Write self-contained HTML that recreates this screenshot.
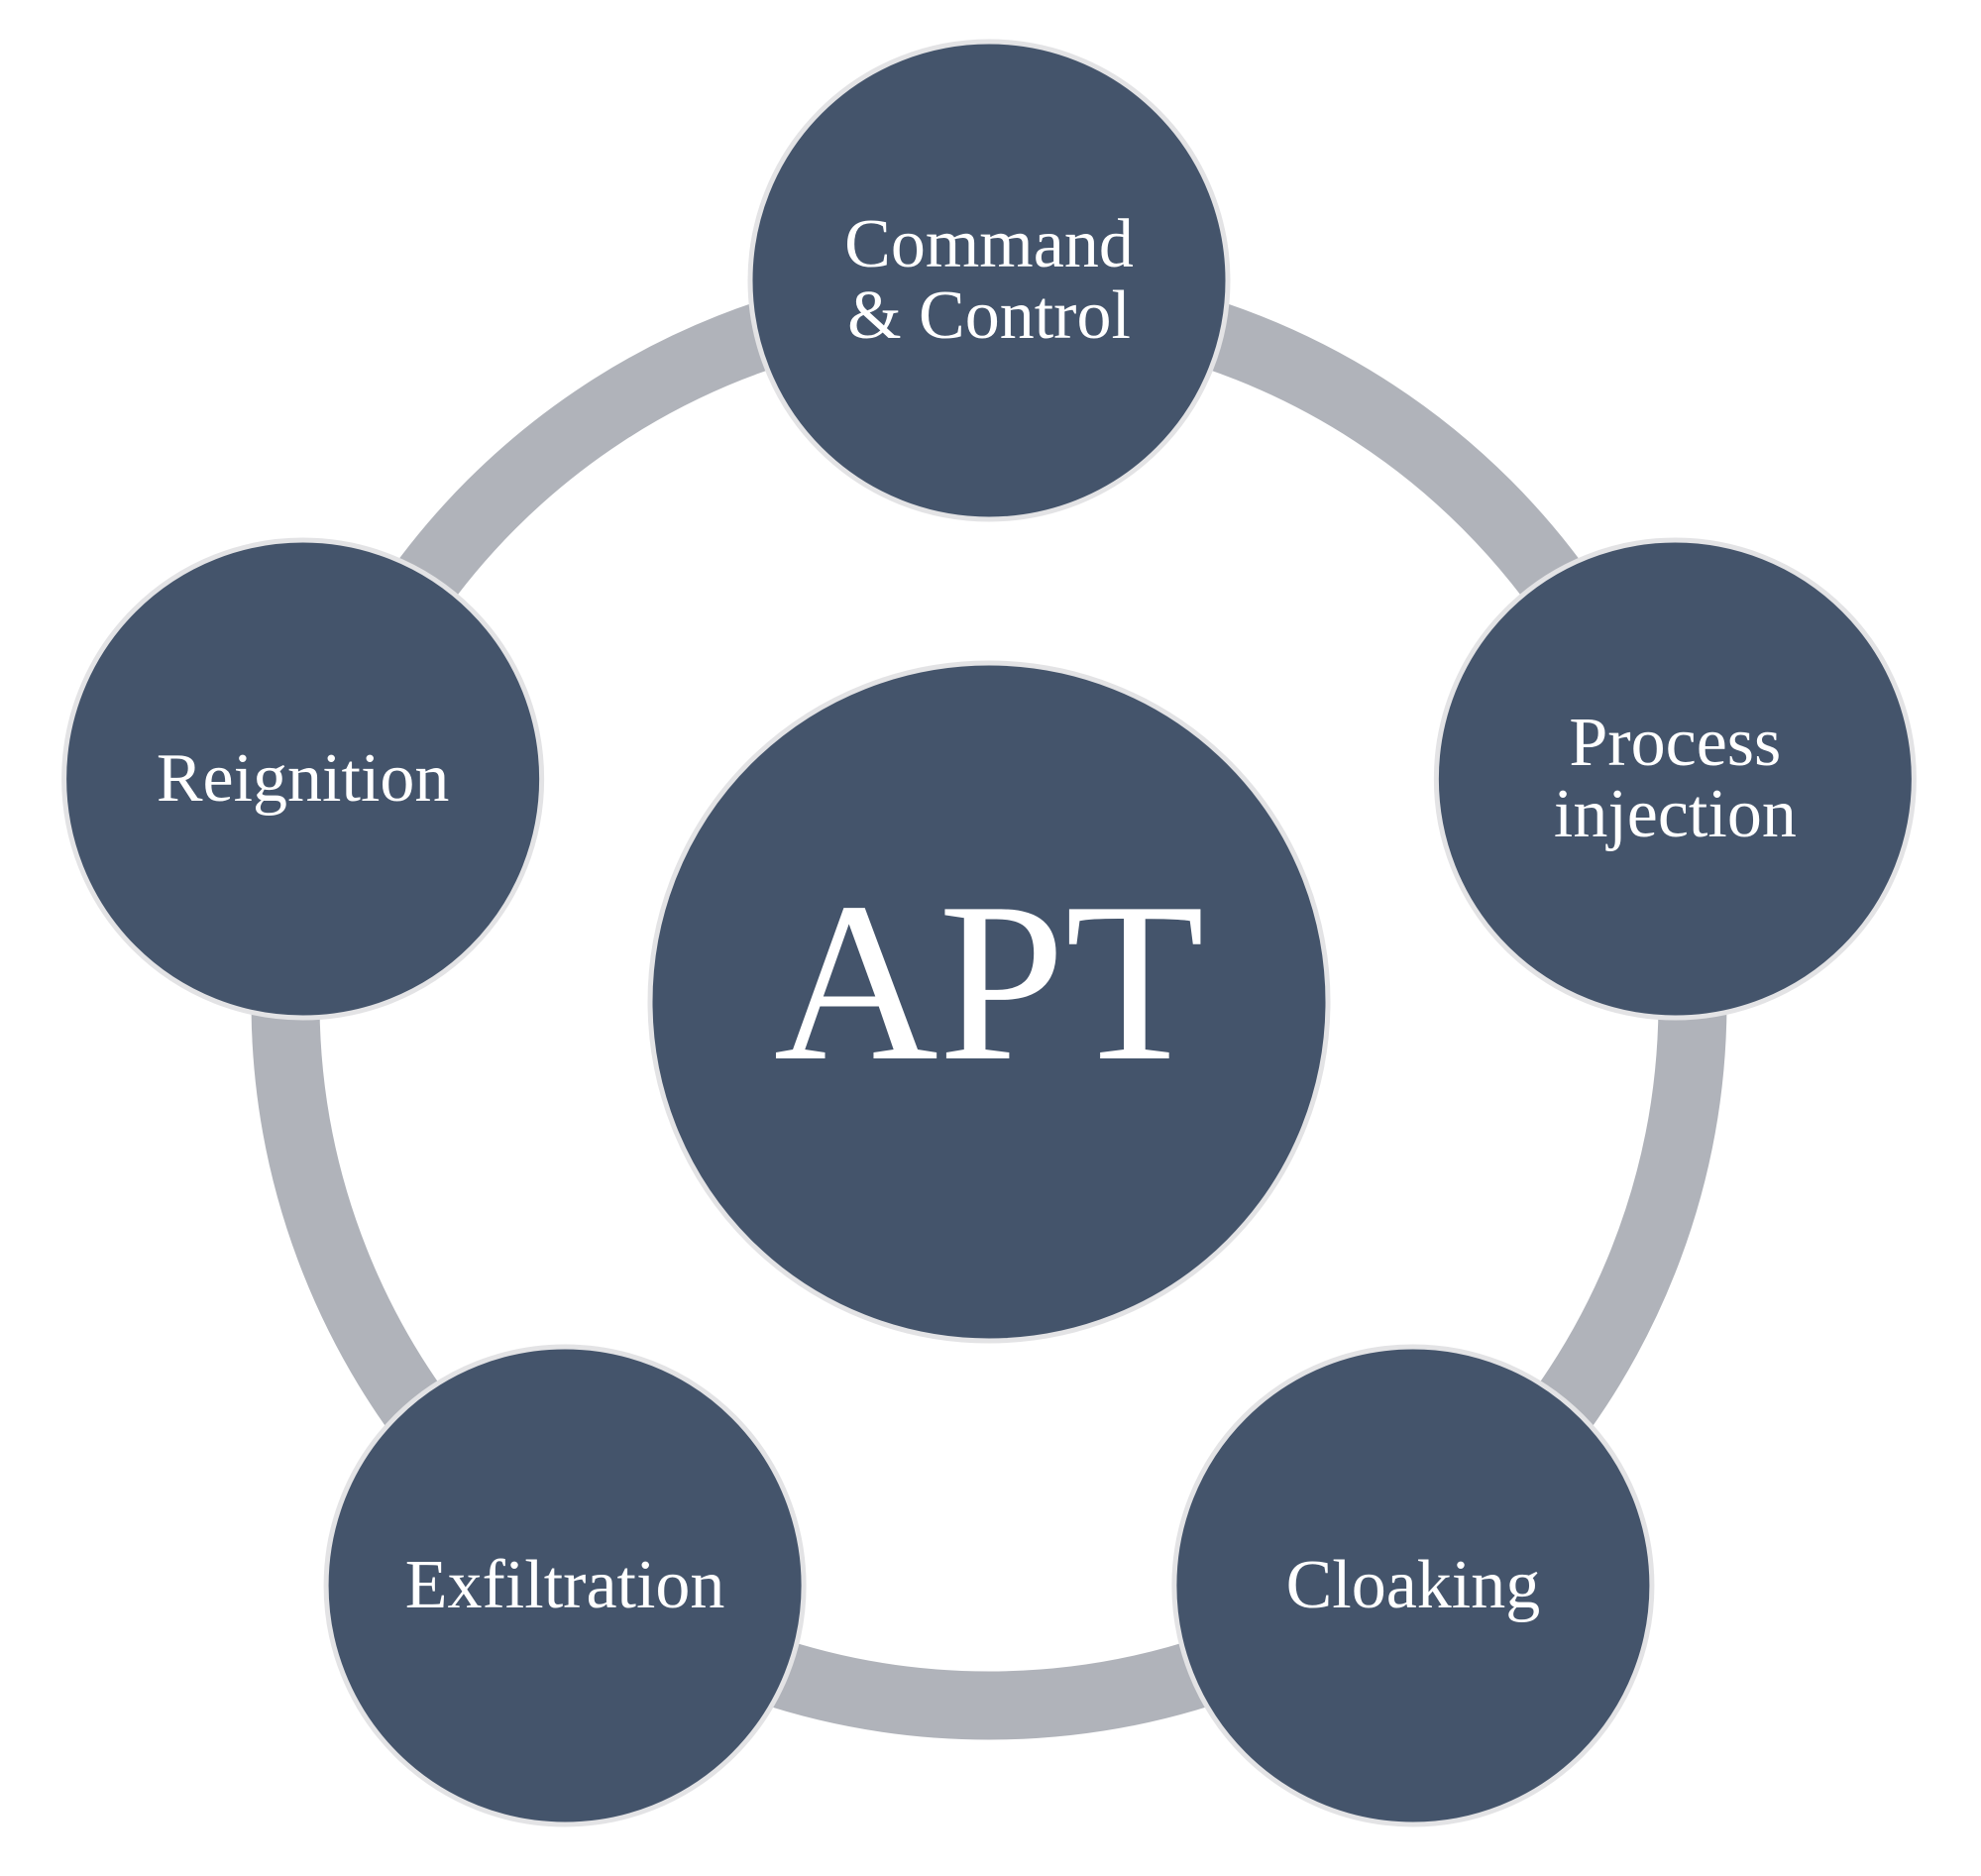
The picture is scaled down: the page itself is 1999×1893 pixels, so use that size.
<!DOCTYPE html>
<html><head><meta charset="utf-8"><style>html,body{margin:0;padding:0;background:#fff}svg{display:block}</style></head>
<body>
<svg id="chart" width="1999" height="1893" viewBox="0 0 1999 1893" xmlns="http://www.w3.org/2000/svg" font-family="'Liberation Serif', serif" fill="#fff">
<rect width="1999" height="1893" fill="#fff"/>
<circle cx="998" cy="1011" r="710" fill="none" stroke="#b0b3ba" stroke-width="69"/>
<g>
<circle cx="998" cy="1011" r="342" fill="#44546b" stroke="#e3e3e5" stroke-width="5"/>
<text x="998" y="1068" font-size="230" text-anchor="middle" fill="#fff">APT</text>
</g>
<g id="nodes"></g>
</svg>
<script>
const labels=[["Command","& Control"],["Process","injection"],["Cloaking"],["Exfiltration"],["Reignition"]];
const names=["command-control-node","process-injection-node","cloaking-node","exfiltration-node","reignition-node"];
const g=document.getElementById('nodes');
const NS="http://www.w3.org/2000/svg";
const cx=998,cy=1011,R=728,r=241;
labels.forEach((lines,i)=>{
  const a=(-90+72*i)*Math.PI/180;
  const x=cx+R*Math.cos(a), y=cy+R*Math.sin(a);
  const grp=document.createElementNS(NS,'g');
  
  
  const c=document.createElementNS(NS,'circle');
  c.setAttribute('cx',x);c.setAttribute('cy',y);c.setAttribute('r',r);
  c.setAttribute('fill','#44546b');c.setAttribute('stroke','#e3e3e5');c.setAttribute('stroke-width','5');
  grp.appendChild(c);
  lines.forEach((t,j)=>{
    const tx=document.createElementNS(NS,'text');
    
    
    tx.setAttribute('x',x);
    const by = lines.length===1 ? y+22 : y-14+72*j;
    tx.setAttribute('y',by);
    tx.setAttribute('font-size','70');tx.setAttribute('text-anchor','middle');tx.setAttribute('fill','#fff');
    tx.textContent=t;
    grp.appendChild(tx);
  });
  g.appendChild(grp);
});
</script>
</body></html>
